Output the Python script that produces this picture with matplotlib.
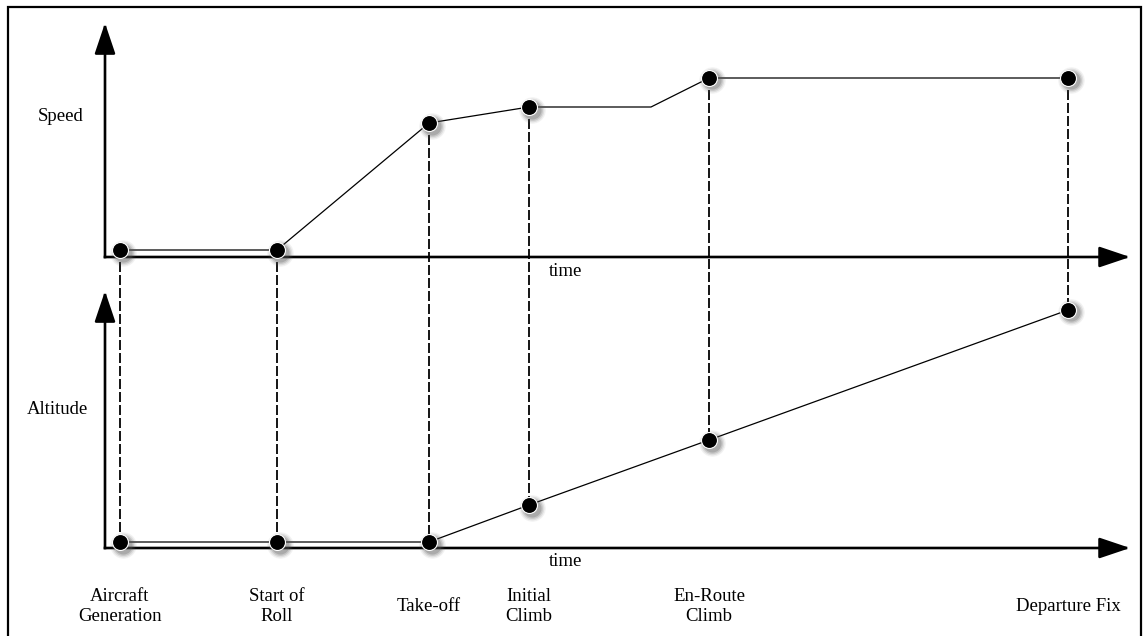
import matplotlib
matplotlib.use("Agg")
import matplotlib.pyplot as plt
from matplotlib.patches import Rectangle, ConnectionPatch
from matplotlib.transforms import offset_copy, blended_transform_factory

plt.rcParams['font.family'] = ['Liberation Serif', 'DejaVu Serif']

# events along the time axis (arbitrary time units)
event_names = ["Aircraft\nGeneration", "Start of\nRoll", "Take-off", "Initial\nClimb",
               "En-Route\nClimb", "Departure Fix"]
event_time = [15, 172, 324, 424, 604, 963]

# speed profile (the break at t=546 has no marker)
speed_time = [15, 172, 324, 424, 546, 604, 963]
speed = [7, 7, 134, 150, 150, 179, 179]
speed_at_event = [7, 7, 134, 150, 179, 179]

# altitude profile
altitude = [6, 6, 6, 43, 108, 238]

W, H = 1143, 636
fig = plt.figure(figsize=(W / 100, H / 100), dpi=100)

ax_top = fig.add_axes([105 / W, 1 - 257 / H, 1021 / W, 234 / H])
ax_bot = fig.add_axes([105 / W, 1 - 548 / H, 1021 / W, 257 / H])
ax_top.set_xlim(0, 1021)
ax_top.set_ylim(0, 234)
ax_bot.set_xlim(0, 1021)
ax_bot.set_ylim(0, 257)


def dress(ax):
    ax.patch.set_visible(False)
    for s in ax.spines.values():
        s.set_visible(False)
    ax.set_xticks([])
    ax.set_yticks([])
    style = "-|>,head_length=0.95,head_width=0.32"
    for tip in [(1.004, 0), (0, 1)]:
        ax.annotate("", xy=tip, xytext=(0, 0), xycoords="axes fraction",
                    arrowprops=dict(arrowstyle=style, lw=1.9, color="black",
                                    shrinkA=0, shrinkB=0, mutation_scale=20,
                                    capstyle="projecting"),
                    annotation_clip=False)


def dots(ax, x, y):
    # soft shadow down-right, then black dot with thin white rim
    shadow = offset_copy(ax.transData, fig=fig, x=2.5, y=-2.5, units="dots")
    for ms, a in [(19, 0.08), (17, 0.12), (15, 0.18), (13, 0.25)]:
        ax.plot(x, y, "o", ms=ms, color="0.35", alpha=a, mec="none",
                transform=shadow, clip_on=False, zorder=4)
    ax.plot(x, y, "o", ms=11.5, mfc="black", mec="white", mew=0.8,
            clip_on=False, zorder=5)


dress(ax_top)
dress(ax_bot)

ax_top.plot(speed_time, speed, color="black", lw=0.9, clip_on=False, zorder=3)
dots(ax_top, event_time, speed_at_event)

ax_bot.plot(event_time, altitude, color="black", lw=0.9, clip_on=False, zorder=3)
dots(ax_bot, event_time, altitude)

# dashed drop lines from speed point to altitude point
for t, s, a in zip(event_time, speed_at_event, altitude):
    con = ConnectionPatch(xyA=(t, s), coordsA=ax_top.transData,
                          xyB=(t, a), coordsB=ax_bot.transData,
                          color="0.1", lw=0.75, linestyle=(0, (8, 4.5)),
                          antialiased=False, zorder=-1)
    fig.add_artist(con)

fs = 13.5
ax_top.text(-0.043, 0.60, "Speed", transform=ax_top.transAxes, ha="center",
            va="center", fontsize=fs)
ax_bot.text(-0.047, 0.537, "Altitude", transform=ax_bot.transAxes, ha="center",
            va="center", fontsize=fs)
ax_top.text(0.451, -0.06, "time", transform=ax_top.transAxes, ha="center",
            va="center", fontsize=fs)
ax_bot.text(0.451, -0.054, "time", transform=ax_bot.transAxes, ha="center",
            va="center", fontsize=fs)

trans = blended_transform_factory(ax_bot.transData, ax_bot.transAxes)
for t, name in zip(event_time, event_names):
    ax_bot.text(t, -0.228, name, transform=trans, ha="center", va="center",
                fontsize=fs, linespacing=1.2, multialignment="center")

# outer frame (open at the bottom edge of the image)
fig.add_artist(Rectangle((8 / W, -0.05), (1141 - 8) / W, 1.05 - 7 / H,
                         transform=fig.transFigure, fill=False, lw=1.6,
                         edgecolor="black"))

fig.savefig("out.png", dpi=100)
